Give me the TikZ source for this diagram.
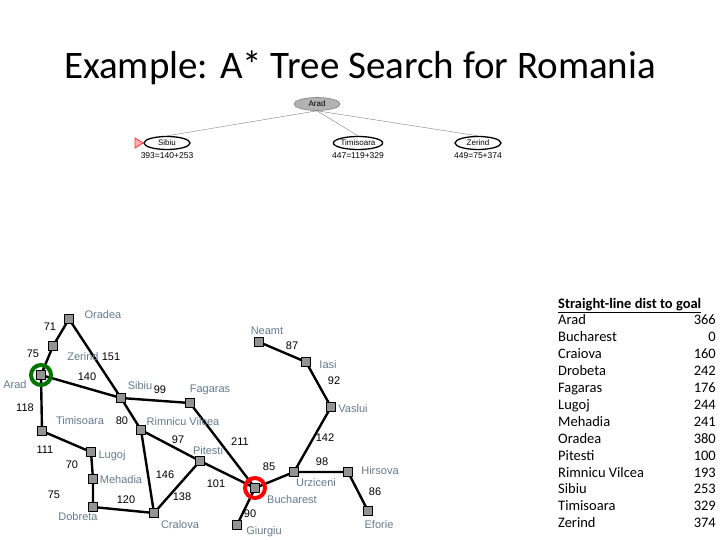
\documentclass[tikz,border=0pt]{standalone}
\usetikzlibrary{shapes.geometric}
\usepackage{fontspec}
\setmainfont{Carlito}
\setsansfont{Liberation Sans}
\definecolor{cityc}{RGB}{100,122,140}
\begin{document}
\begin{tikzpicture}[x=1pt,y=-1pt,
 city/.style={draw=black,fill=gray!85,minimum size=9pt,inner sep=0pt,line width=0.6pt},
 rd/.style={line width=2.4pt},
 cl/.style={font=\sffamily\fontsize{11}{11}\selectfont,text=cityc,inner sep=0pt},
 wl/.style={font=\sffamily\fontsize{11}{11}\selectfont,inner sep=0pt},
 tn/.style={draw,ellipse,line width=1.3pt,minimum width=46pt,minimum height=13pt,inner sep=0pt,font=\sffamily\fontsize{8}{8}\selectfont},
 tl/.style={font=\sffamily\fontsize{8.5}{8.5}\selectfont,inner sep=0pt},
 tb/.style={font=\fontsize{14.5}{15}\selectfont,inner sep=0pt}]
\useasboundingbox (0,0) rectangle (720,540);
\node[font=\fontsize{39}{40}\selectfont] (title) at (360,68) {Example: A* Tree Search for Romania};
% tree
\node[tn,fill=gray!60,draw=gray,line width=0.6pt] (tA) at (317,104) {Arad};
\node[tn] (tS) at (167,143) {Sibiu};
\node[tn] (tT) at (358,143) {Timisoara};
\node[tn] (tZ) at (478,143) {Zerind};
\foreach \c in {tS,tT,tZ} \draw[gray,line width=0.4pt] (tA.south) -- (\c.north);
\node[tl] (lS) at (167,156) {393=140+253};
\node[tl] (lT) at (358,156) {447=119+329};
\node[tl] (lZ) at (478,156) {449=75+374};
\coordinate (tri) at (135,143);
\draw[red!80,fill=red!30,line width=0.8pt] (tri) ++(0,-5) -- ++(8,5) -- ++(-8,5) -- cycle;
% map
\foreach \n/\x/\y in {Or/69/319,Ze/53/346,Ar/41/375,Si/121/398,Fa/190/403,Ti/42/431,Lu/91/452,Me/93/479,Do/93/507,Cr/154/513,Ri/141/430,Pi/200/461,Bu/255/488,Gi/237/525,Ne/259/342,Ia/306/362,Va/331/407,Ur/294/472,Hi/348/472,Ef/368/511}
  \coordinate (\n) at (\x,\y);
\draw[rd] (Or)--(Ze)--(Ar)--(Ti)--(Lu)--(Me)--(Do)--(Cr)--(Pi)--(Bu)--(Gi);
\draw[rd] (Or)--(Si)--(Fa)--(Bu)--(Ur)--(Hi)--(Ef);
\draw[rd] (Ar)--(Si)--(Ri)--(Cr);
\draw[rd] (Ri)--(Pi);
\draw[rd] (Ur)--(Va)--(Ia)--(Ne);
\draw[green!45!black,line width=4pt] (Ar) circle (10pt);
\draw[red,line width=4pt] (Bu) circle (10pt);
\foreach \n in {Or,Ze,Ar,Si,Fa,Ti,Lu,Me,Do,Cr,Ri,Pi,Bu,Gi,Ne,Ia,Va,Ur,Hi,Ef}
  \node[city] (n\n) at (\n) {};
\foreach \t/\x/\y in {Oradea/103/315,Neamt/267/331,Zerind/83/357,Iasi/328/365,Arad/15/385,Sibiu/140/386,Fagaras/210/390,Vaslui/353/409,Timisoara/80/421,Rimnicu Vilcea/183/422,Pitesti/208/451,Lugoj/112/456,Mehadia/121/480,Hirsova/380/471,Urziceni/316/483,Bucharest/292/500,Dobreta/78/517,Cralova/180/525,Giurgiu/264/532,Eforie/379/525}
  \node[cl] at (\x,\y) {\t};
\foreach \t/\x/\y in {71/50/327,75/33/354,151/111/357,140/87/377,118/25/408,99/160/390,80/122/421,111/45/450,70/72/465,75/54/495,146/165/475,120/126/500,138/182/497,97/178/440,211/240/442,101/216/484,85/269/467,90/250/514,98/322/462,142/325/438,87/292/346,92/334/381,86/375/492}
  \node[wl] at (\x,\y) {\t};
% table
\node[tb,anchor=base west,font=\bfseries\fontsize{14.5}{15}\selectfont] (hd) at (558,308) {\underline{Straight-line dist to goal}};
\foreach \t/\v [count=\i] in {Arad/366,Bucharest/0,Craiova/160,Drobeta/242,Fagaras/176,Lugoj/244,Mehadia/241,Oradea/380,Pitesti/100,Rimnicu Vilcea/193,Sibiu/253,Timisoara/329,Zerind/374}{
  \node[tb,anchor=base west] at (558,{308+16.9*\i}) {\t};
  \node[tb,anchor=base east] at (716,{308+16.9*\i}) {\v};}
\end{tikzpicture}
\end{document}
